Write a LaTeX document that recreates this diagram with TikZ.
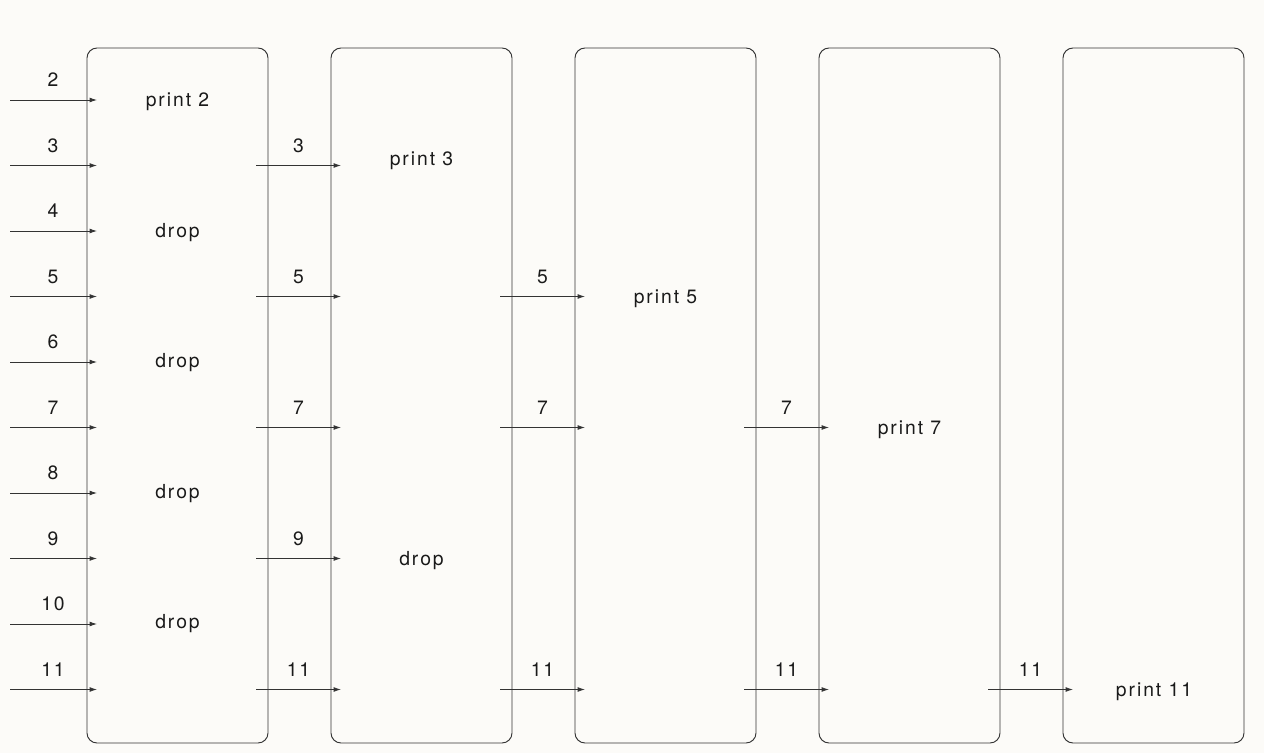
\documentclass[tikz,border=0pt]{standalone}
\usepackage{fontspec}
\setmainfont[LetterSpace=10]{TeX Gyre Heros}
\usetikzlibrary{arrows.meta,calc}
\definecolor{bg}{HTML}{FCFBF8}
\definecolor{ln}{HTML}{333333}
\definecolor{tx}{HTML}{1A1A1A}
\tikzset{
  stage/.style={draw=ln, line width=0.7pt, rounded corners=7.5pt, minimum width=135.75pt, minimum height=521.25pt, inner sep=0pt},
  flow/.style={draw=ln, line width=0.6pt, -{Latex[length=5.5pt,width=3.6pt]}},
  num/.style={text=tx, font=\fontsize{14.5}{17}\selectfont, inner sep=0pt},
  act/.style={text=tx, font=\fontsize{14.5}{17}\selectfont, inner sep=0pt}
}
\begin{document}
\begin{tikzpicture}[x=0.75pt,y=-0.75pt]
\fill[bg] (0,0) rectangle (1264,753);
\useasboundingbox (0,0) rectangle (1264,753);
% stages
\foreach \k in {1,...,5}{
  \node[stage] (b\k) at ({177.5+244*(\k-1)},395.5) {};
}
% input arrows
\foreach \n in {2,...,11}{
  \pgfmathsetmacro{\yy}{100+65.5*(\n-2)}
  \coordinate (i\n s) at (10,\yy);
  \coordinate (i\n e) at (97,\yy);
  \draw[flow] (i\n s) -- (i\n e);
  \node[num] (il\n) at (53,\yy-20) {\n};
}
% inter-stage arrows
\foreach \k/\list in {1/{3,5,7,9,11},2/{5,7,11},3/{7,11},4/{11}}{
  \foreach \n in \list{
    \pgfmathsetmacro{\yy}{100+65.5*(\n-2)}
    \pgfmathsetmacro{\xs}{256+244*(\k-1)}
    \pgfmathsetmacro{\xe}{341+244*(\k-1)}
    \coordinate (a\k-\n s) at (\xs,\yy);
    \coordinate (a\k-\n e) at (\xe,\yy);
    \draw[flow] (a\k-\n s) -- (a\k-\n e);
    \node[num] (al\k-\n) at ({(\xs+\xe)/2},\yy-20) {\n};
  }
}
% actions
\node[act] (p2) at (177.5,102) {print 2};
\node[act] (d4) at (177.5,233) {drop};
\node[act] (d6) at (177.5,363) {drop};
\node[act] (d8) at (177.5,494) {drop};
\node[act] (d10) at (177.5,624) {drop};
\node[act] (p3) at (421.5,161) {print 3};
\node[act] (d9) at (421.5,561) {drop};
\node[act] (p5) at (665.5,299) {print 5};
\node[act] (p7) at (909.5,430) {print 7};
\node[act] (p11) at (1154,692) {print 11};
\end{tikzpicture}
\end{document}
